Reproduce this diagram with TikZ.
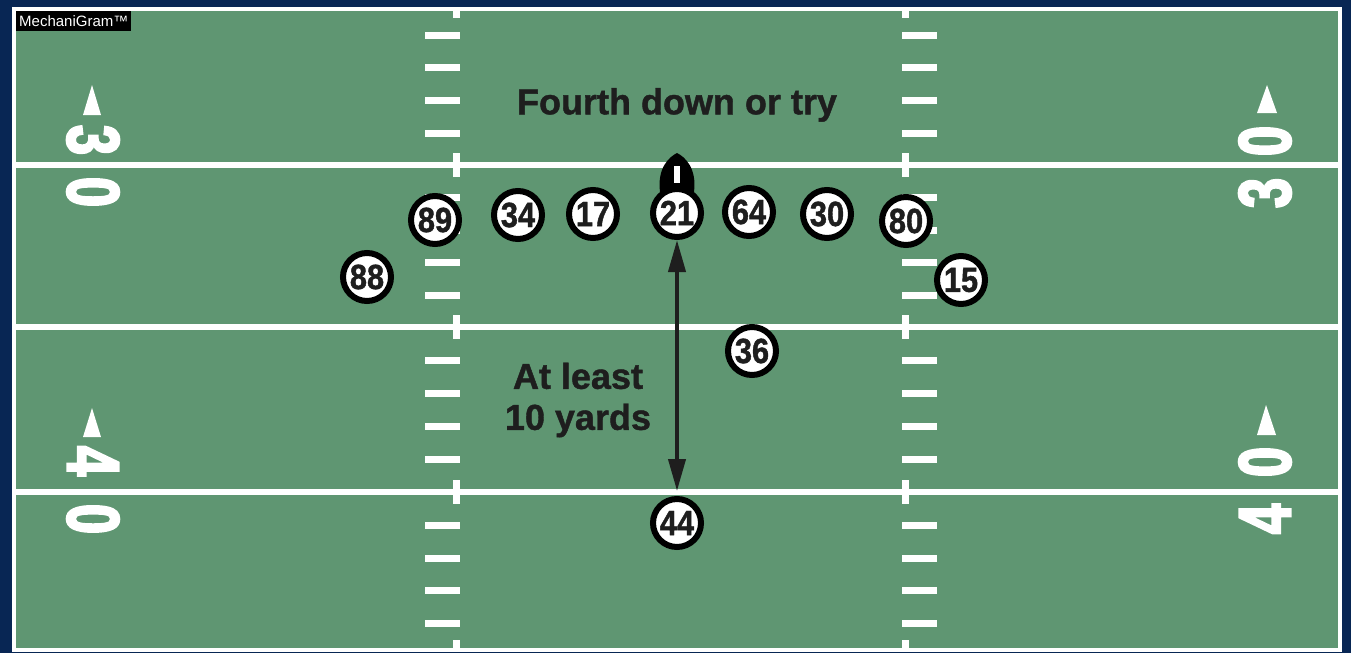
\documentclass[tikz,border=0pt]{standalone}
\usepackage{fontspec}
\setmainfont{Liberation Sans}
\newfontfamily\captionfont[FakeBold=1.2]{Liberation Sans Bold}
\newfontfamily\playerfont[FakeStretch=0.88,FakeBold=1.2]{Liberation Sans Bold}
\newfontfamily\yardfont[FakeStretch=0.73,FakeBold=3]{Liberation Sans Bold}
\usetikzlibrary{arrows.meta,positioning}
\definecolor{fieldgreen}{RGB}{95,150,114}
\definecolor{navyback}{RGB}{8,38,84}
\definecolor{inkdark}{RGB}{30,30,30}
\begin{document}
\begin{tikzpicture}[x=1pt, y=-1pt,
player/.style={circle, draw=black, line width=6pt, fill=white, minimum size=48pt, inner sep=0pt, text=inkdark, font=\playerfont\fontsize{35}{35}\selectfont},
yardnum/.style={text=white, inner sep=0pt, font=\yardfont\fontsize{74}{74}\selectfont},
caption/.style={text=inkdark, inner sep=0pt, font=\captionfont\fontsize{36}{41}\selectfont},
yardline/.style={white, line width=6pt},
hashtick/.style={white, line width=7pt},
hashdash/.style={white, line width=7pt},
measure/.style={{Triangle[length=32pt,width=17pt]}-{Triangle[length=32pt,width=17pt]}, line width=4pt, inkdark},
]
    \useasboundingbox (0,0) rectangle (1351,653);
    \fill[navyback] (0,0) rectangle (1351,653);
    % field
    \fill[fieldgreen] (14,9) rectangle (1340,650);
    \draw[white, line width=4pt] (14,9) rectangle (1340,650);
    \foreach \y in {165,327,492}
        \draw[yardline] (14,\y) -- (1340,\y);
    % hash marks
    \foreach \x in {456,905} {
        \draw[hashtick] (\x,10) -- (\x,18);
        \draw[hashtick] (\x,640) -- (\x,650);
        \foreach \y in {165,327,492}
            \draw[hashtick] (\x,\y-12) -- (\x,\y+12);
    }
    \foreach \y in {35,67,100,133,197,230,262,295,360,393,426,459,525,558,590,623} {
        \draw[hashdash] (425,\y) -- (460,\y);
        \draw[hashdash] (902,\y) -- (937,\y);
    }
    % yard numbers
    \node[yardnum, rotate=-90] (lthree) at (93,140) {3};
    \node[yardnum, rotate=-90] (lzero) at (93,192) {0};
    \node[yardnum, rotate=90] (rzero) at (1265,141) {0};
    \node[yardnum, rotate=90] (rthree) at (1265,193) {3};
    \node[yardnum, rotate=-90] (lfour) at (93,461) {4};
    \node[yardnum, rotate=-90] (lzerob) at (93,519) {0};
    \node[yardnum, rotate=90] (rzerob) at (1265,462) {0};
    \node[yardnum, rotate=90] (rfour) at (1265,519) {4};
    \fill[white] (92,85) -- (101,115) -- (83,115) -- cycle;
    \fill[white] (1267,85) -- (1277,113) -- (1257,113) -- cycle;
    \fill[white] (92,408) -- (101,437) -- (83,437) -- cycle;
    \fill[white] (1266,405) -- (1276,435) -- (1257,435) -- cycle;
    % texts
    \node[caption] (fourth) at (677,105) {Fourth down or try};
    \node[caption, align=center] (tenyards) at (578,400) {At least\\10 yards};
    % ball
    \fill[black] (660,192) .. controls (657,168) and (669,157) .. (677,153) .. controls (685,157) and (697,168) .. (694,192) -- cycle;
    \fill[white] (674,166) rectangle (680,183);
    % players
    \node[player] (p89) at (435,220) {89};
    \node[player] (p34) at (518,215) {34};
    \node[player] (p17) at (593,214) {17};
    \node[player] (p21) at (677,213) {21};
    \node[player] (p64) at (749,212) {64};
    \node[player] (p30) at (827,214) {30};
    \node[player] (p80) at (906,221) {80};
    \node[player] (p88) at (367,277) {88};
    \node[player] (p15) at (961,280) {15};
    \node[player] (p36) at (752,351) {36};
    \node[player] (p44) at (677,523) {44};
    \coordinate (tenline) at (677,491);
    \draw[measure] (p21) -- (tenline);
    % logo
    \node[fill=black, text=white, anchor=north west, inner xsep=3pt, inner ysep=0pt, minimum height=20pt, font=\fontsize{15}{15}\selectfont] (logo) at (16,11) {MechaniGram™};
\end{tikzpicture}
\end{document}
